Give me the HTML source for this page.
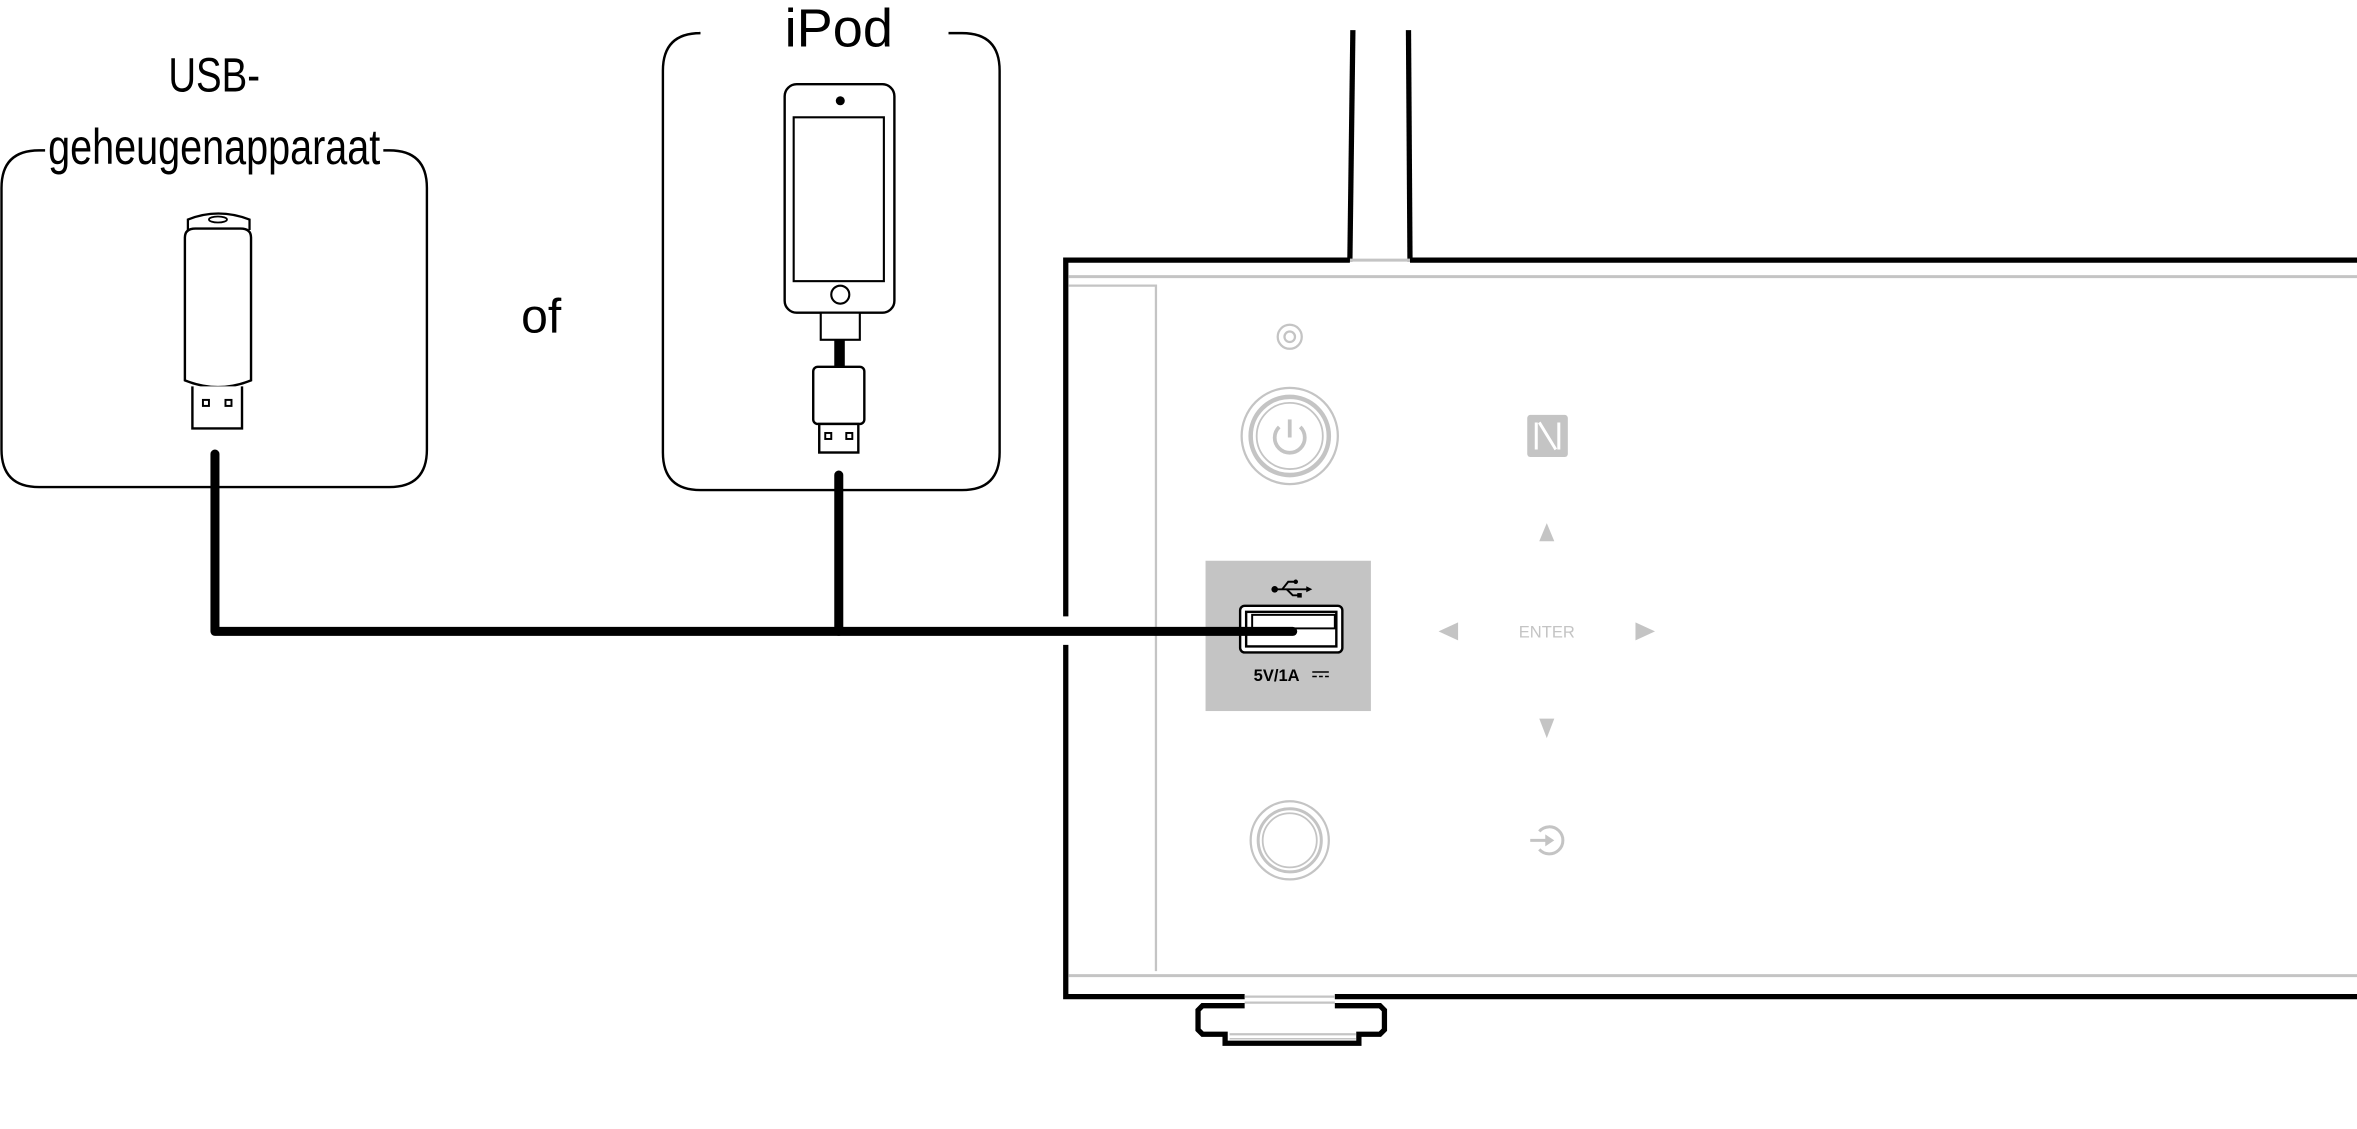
<!DOCTYPE html>
<html><head><meta charset="utf-8"><style>
html,body{margin:0;padding:0;background:#fff;}
svg{display:block;}
text{font-family:"Liberation Sans Narrow","Liberation Sans",sans-serif;}
</style></head><body>
<svg width="2357" height="1129" viewBox="0 0 1568 751" xmlns="http://www.w3.org/2000/svg">
<rect width="1568" height="751" fill="#fff"/>
<path d="M30,100 H26 Q1,100 1,125 V299 Q1,324 26,324 H259 Q284,324 284,299 V125 Q284,100 259,100 H255" fill="none" stroke="#000" stroke-width="1.6"/>
<text x="112" y="61" font-size="32" textLength="61" lengthAdjust="spacingAndGlyphs">USB-</text>
<text x="32" y="109" font-size="33" textLength="221" lengthAdjust="spacingAndGlyphs">geheugenapparaat</text>
<path d="M125,153 V146 Q145,138 166,146 V153" fill="#fff" stroke="#000" stroke-width="1.5"/>
<ellipse cx="145" cy="146" rx="6" ry="2" fill="none" stroke="#000" stroke-width="1.2"/>
<path d="M123,158 Q123,152 130,152 H160 Q167,152 167,158 V253 Q145,262 123,253 Z" fill="#fff" stroke="#000" stroke-width="1.6"/>
<path d="M128,257 V285 H161 V257" fill="#fff" stroke="#000" stroke-width="1.6"/>
<rect x="135" y="266" width="4" height="4" fill="none" stroke="#000" stroke-width="1.3"/>
<rect x="150" y="266" width="4" height="4" fill="none" stroke="#000" stroke-width="1.3"/>
<text x="360" y="221" font-size="32" text-anchor="middle" font-family="Liberation Sans, sans-serif">of</text>
<path d="M465,22 H466 Q441,22 441,47 V301 Q441,326 466,326 H640 Q665,326 665,301 V47 Q665,22 640,22 H631" fill="none" stroke="#000" stroke-width="1.6"/>
<text x="558" y="31" font-size="36" text-anchor="middle" font-family="Liberation Sans, sans-serif">iPod</text>
<rect x="522" y="56" width="73" height="152" rx="8" fill="#fff" stroke="#000" stroke-width="1.6"/>
<rect x="528" y="78" width="60" height="109" fill="none" stroke="#000" stroke-width="1.4"/>
<circle cx="559" cy="67" r="3" fill="#000"/>
<circle cx="559" cy="196" r="6" fill="none" stroke="#000" stroke-width="1.4"/>
<rect x="546" y="208" width="26" height="18" fill="#fff" stroke="#000" stroke-width="1.4"/>
<rect x="555" y="226" width="7" height="19" fill="#000"/>
<rect x="541" y="244" width="34" height="38" rx="3" fill="#fff" stroke="#000" stroke-width="1.6"/>
<rect x="545" y="282" width="26" height="19" fill="#fff" stroke="#000" stroke-width="1.6"/>
<rect x="549" y="288" width="4" height="4" fill="none" stroke="#000" stroke-width="1.3"/>
<rect x="563" y="288" width="4" height="4" fill="none" stroke="#000" stroke-width="1.3"/>
<line x1="900" y1="20" x2="898" y2="174" stroke="#000" stroke-width="3.5"/>
<line x1="937" y1="20" x2="938" y2="174" stroke="#000" stroke-width="3.5"/>
<line x1="898" y1="173" x2="938" y2="173" stroke="#c4c4c4" stroke-width="2"/>
<path d="M898,173 H709 V410" fill="none" stroke="#000" stroke-width="3.5"/>
<path d="M709,429 V663 H828" fill="none" stroke="#000" stroke-width="3.5"/>
<path d="M938,173 H1568" fill="none" stroke="#000" stroke-width="3.5"/>
<path d="M888,663 H1568" fill="none" stroke="#000" stroke-width="3.5"/>
<line x1="711" y1="184" x2="1568" y2="184" stroke="#c4c4c4" stroke-width="2"/>
<line x1="711" y1="649" x2="1568" y2="649" stroke="#c4c4c4" stroke-width="2"/>
<path d="M711,190 H769 V646" fill="none" stroke="#c4c4c4" stroke-width="1.5"/>
<line x1="828" y1="663" x2="888" y2="663" stroke="#c4c4c4" stroke-width="1.5"/>
<line x1="828" y1="667" x2="888" y2="667" stroke="#c4c4c4" stroke-width="1.5"/>
<path d="M828,669 H800 L797,672 V685 L800,688 H815 V694 H904 V688 H918 L921,685 V672 L918,669 H888" fill="none" stroke="#000" stroke-width="3.5"/>
<line x1="818" y1="688" x2="902" y2="688" stroke="#c4c4c4" stroke-width="1.5"/>
<line x1="818" y1="691" x2="902" y2="691" stroke="#c4c4c4" stroke-width="1"/>
<circle cx="858" cy="224" r="8" fill="none" stroke="#c4c4c4" stroke-width="1.5"/>
<circle cx="858" cy="224" r="3.5" fill="none" stroke="#c4c4c4" stroke-width="1.5"/>
<circle cx="858" cy="290" r="32" fill="none" stroke="#c4c4c4" stroke-width="1.5"/>
<circle cx="858" cy="290" r="26" fill="none" stroke="#c4c4c4" stroke-width="3"/>
<circle cx="858" cy="290" r="22" fill="none" stroke="#c4c4c4" stroke-width="1.2"/>
<path d="M851,284 A10,10 0 1 0 865,284" fill="none" stroke="#c4c4c4" stroke-width="2.5"/>
<line x1="858" y1="279" x2="858" y2="291" stroke="#c4c4c4" stroke-width="2.5"/>
<rect x="1016" y="276" width="27" height="28" rx="2" fill="#c4c4c4"/>
<path d="M1022,281 V299 M1037,281 V299 M1024,281 L1035,299" stroke="#fff" stroke-width="2" fill="none"/>
<polygon points="1029,348 1024,360 1034,360" fill="#c4c4c4"/>
<polygon points="1029,491 1024,478 1034,478" fill="#c4c4c4"/>
<polygon points="957,420 970,414 970,426" fill="#c4c4c4"/>
<polygon points="1101,420 1088,414 1088,426" fill="#c4c4c4"/>
<text x="1029" y="424" font-size="11" fill="#c4c4c4" text-anchor="middle" font-family="Liberation Sans, sans-serif">ENTER</text>
<circle cx="858" cy="559" r="26" fill="none" stroke="#c4c4c4" stroke-width="1.5"/>
<circle cx="858" cy="559" r="21" fill="none" stroke="#c4c4c4" stroke-width="2"/>
<circle cx="858" cy="559" r="18" fill="none" stroke="#c4c4c4" stroke-width="1.2"/>
<path d="M1024,553 A9,9 0 1 1 1024,565" fill="none" stroke="#c4c4c4" stroke-width="2"/>
<line x1="1018" y1="559" x2="1031" y2="559" stroke="#c4c4c4" stroke-width="2"/>
<polygon points="1034,559 1028,555 1028,563" fill="#c4c4c4"/>
<rect x="802" y="373" width="110" height="100" fill="#c4c4c4"/>
<g stroke="#000" stroke-width="1.3" fill="none">
<line x1="849" y1="392" x2="871" y2="392"/>
<path d="M853,392 L857,387 H862 M856,392 L860,396 H864"/>
</g>
<circle cx="848" cy="392" r="2.2" fill="#000"/>
<circle cx="862" cy="387" r="1.5" fill="#000"/>
<rect x="863" y="394.5" width="3" height="3" fill="#000"/>
<polygon points="873,392 869,390 869,394" fill="#000"/>
<rect x="825" y="403" width="68" height="31" rx="3" fill="#fff" stroke="#000" stroke-width="1.6"/>
<rect x="829" y="407" width="60" height="23" fill="none" stroke="#000" stroke-width="1.6"/>
<rect x="833" y="409" width="55" height="9" fill="none" stroke="#000" stroke-width="1.3"/>
<text x="834" y="453" font-size="11" font-weight="bold" font-family="Liberation Sans, sans-serif">5V/1A</text>
<path d="M873,447 H884 M873,450 H876 M877.5,450 H880 M881.5,450 H884" stroke="#000" stroke-width="1"/>
<path d="M143,302 V420 H860" fill="none" stroke="#000" stroke-width="6" stroke-linecap="round" stroke-linejoin="round"/>
<path d="M558,316 V420" fill="none" stroke="#000" stroke-width="6" stroke-linecap="round"/>
</svg>
</body></html>
